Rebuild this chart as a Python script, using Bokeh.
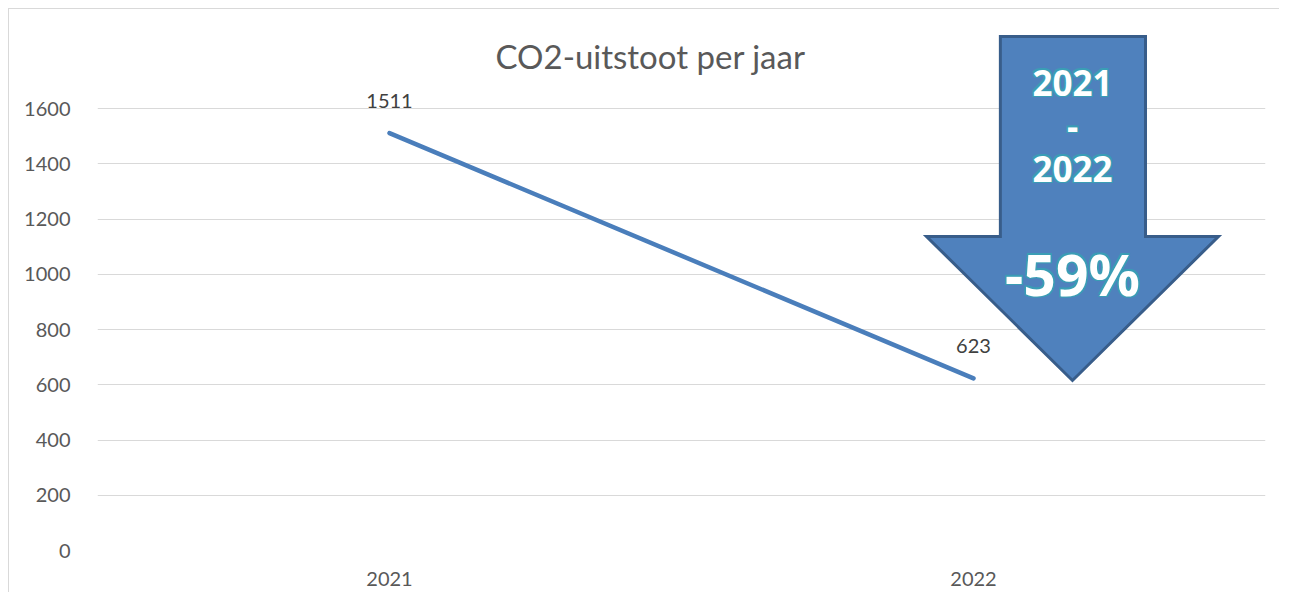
from bokeh.plotting import figure
from bokeh.models import Range1d, FactorRange, FixedTicker, ColumnDataSource
from bokeh.core.properties import value
from bokeh.embed import file_html
from bokeh.resources import INLINE

# ---- data ----
years = ["2021", "2022"]
emissions = [1511, 623]
y_ticks = [0, 200, 400, 600, 800, 1000, 1200, 1400, 1600]
title_text = "CO2-uitstoot per jaar"
arrow_lines = ["2021", "-", "2022"]
change_text = "-59%"

FONT = "Lato"
GRAY = "#595959"

y_end = 530 / 442 * 1600

p = figure(width=1279, height=592, x_range=FactorRange(*years, range_padding=0),
           y_range=Range1d(0, y_end), output_backend="svg", toolbar_location=None,
           min_border_left=97, min_border_right=14, min_border_top=20, min_border_bottom=42)
p.styles = {"background": "linear-gradient(#d9d9d9,#d9d9d9) 8px 8px / 1px 100% no-repeat, "
                          "linear-gradient(#d9d9d9,#d9d9d9) 8px 8px / 100% 1px no-repeat, white"}
p.outline_line_color = None
p.background_fill_color = None
p.border_fill_color = None

# axes
p.yaxis.ticker = FixedTicker(ticks=y_ticks)
p.yaxis.axis_line_color = None
p.yaxis.major_tick_line_color = None
p.yaxis.minor_tick_line_color = None
p.yaxis.major_label_standoff = 21
p.yaxis.major_label_text_font = FONT
p.yaxis.major_label_text_font_size = "20px"
p.yaxis.major_label_text_color = GRAY

p.xaxis.axis_line_color = None
p.xaxis.major_tick_line_color = None
p.xaxis.major_label_standoff = 15
p.xaxis.major_label_text_font = FONT
p.xaxis.major_label_text_font_size = "20px"
p.xaxis.major_label_text_color = GRAY

p.xgrid.grid_line_color = None
p.ygrid.grid_line_color = "#d9d9d9"
p.ygrid.grid_line_width = 1

# series line
src = ColumnDataSource(dict(x=years, y=emissions, lab=[str(v) for v in emissions]))
p.line("x", "y", source=src, line_color="#4A7EBB", line_width=4.5, line_cap="round")
p.text("x", "y", text="lab", source=src, text_align="center", text_baseline="middle",
       y_offset=-32, text_font=value(FONT), text_font_size="20px", text_color="#404040")

def py(px):
    return (550 - px) / 442 * 1600

# title
p.text(x=[("2021", 0.447)], y=[py(55)], text=[title_text],
       text_align="center", text_baseline="middle", text_font=value(FONT),
       text_font_size="33px", text_color=GRAY)

# decorative arrow
ax = [0.046, 0.2945, 0.2945, 0.4195, 0.1695, -0.0805, 0.046]
ay = [py(36), py(36), py(236), py(236), py(380), py(236), py(236)]
p.patch([("2022", a) for a in ax], ay, fill_color="#4F81BD", line_color="#385D8A",
        line_width=3, line_join="miter")

AFONT = "Noto Sans"
TEAL = "#3A9DB5"
cx = ("2022", 0.1695)
ys_txt = [py(82), py(125), py(168)]
for dx, dy in [(-1.5, -1.5), (1.5, -1.5), (-1.5, 1.5), (1.5, 1.5)]:
    p.text(x=[cx] * 3, y=ys_txt, text=arrow_lines, x_offset=dx, y_offset=dy,
           text_align="center", text_baseline="middle", text_font=value(AFONT),
           text_font_style="bold", text_font_size="35px", text_color=TEAL)
    p.text(x=[cx], y=[py(273)], text=[change_text], x_offset=dx, y_offset=dy,
           text_align="center", text_baseline="middle", text_font=value(AFONT),
           text_font_style="bold", text_font_size="57px", text_color=TEAL)
p.text(x=[cx] * 3, y=ys_txt, text=arrow_lines, text_align="center",
       text_baseline="middle", text_font=value(AFONT), text_font_style="bold",
       text_font_size="35px", text_color="white")
p.text(x=[cx], y=[py(273)], text=[change_text], text_align="center",
       text_baseline="middle", text_font=value(AFONT), text_font_style="bold",
       text_font_size="57px", text_color="white")

open("out.html", "w").write(file_html(p, INLINE))
